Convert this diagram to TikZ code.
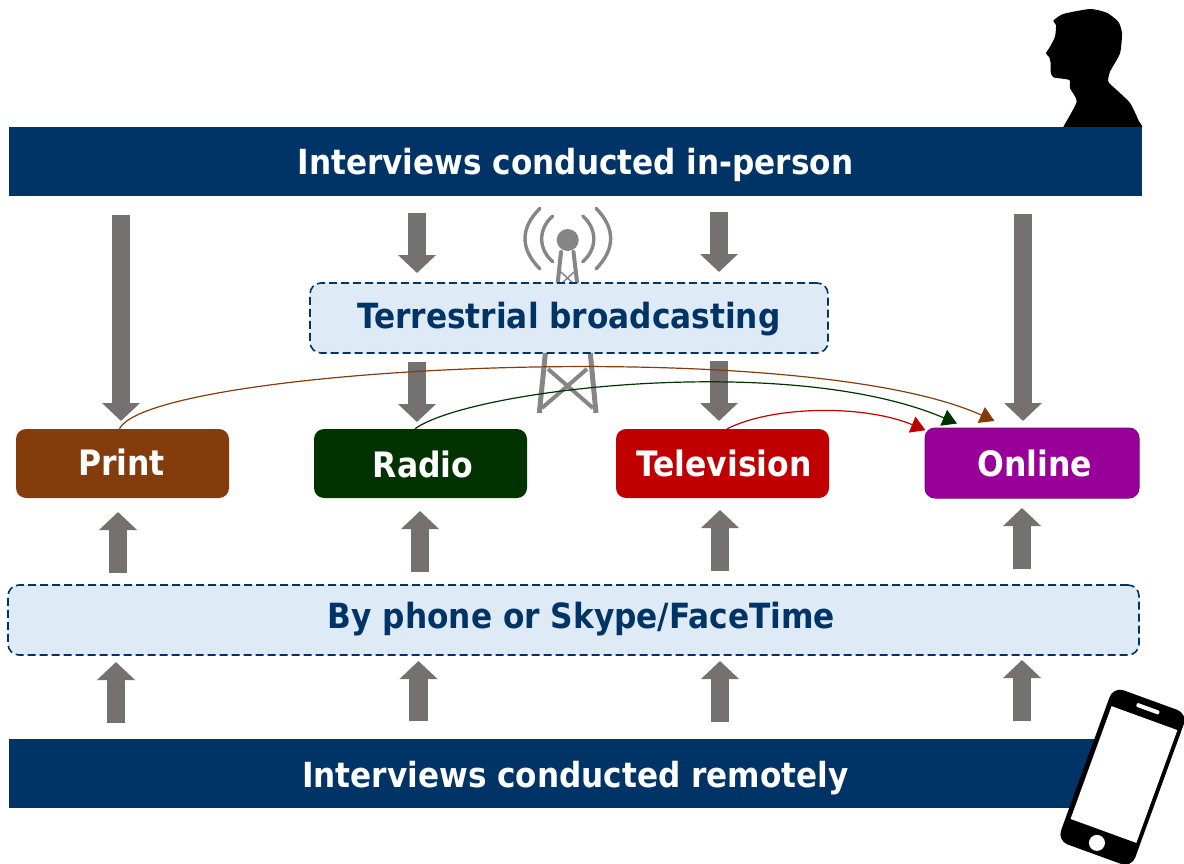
\documentclass[tikz,border=0pt]{standalone}
\usepackage{fontspec}
\setmainfont{DejaVu Sans Condensed}[BoldFont={DejaVu Sans Condensed Bold}]
\usetikzlibrary{arrows.meta,calc}
\definecolor{navy}{HTML}{003366}
\definecolor{pale}{HTML}{DEEAF6}
\definecolor{greyarrow}{HTML}{767171}
\definecolor{cprint}{HTML}{843C0C}
\definecolor{cradio}{HTML}{003300}
\definecolor{ctv}{HTML}{C00000}
\definecolor{conline}{HTML}{990099}
\definecolor{ctower}{HTML}{868686}
\tikzset{
  bar/.style={fill=navy,draw=none,text=white,text depth=0pt,font=\bfseries\fontsize{34.6}{36}\selectfont},
  channel/.style={rounded corners=10pt,text=white,text depth=0pt,font=\bfseries\fontsize{35}{36}\selectfont},
  band/.style={fill=pale,draw=navy,line width=1.6pt,dash pattern=on 8pt off 4pt,rounded corners=11pt,text=navy,text depth=0pt,font=\bfseries\fontsize{34.7}{36}\selectfont},
  gblock/.style={draw=greyarrow,line width=18.5pt,-{Triangle[length=18pt,width=37pt]}},
  link/.style={line width=1.2pt,-{Triangle[length=14.5pt,width=17pt]}},
  towerline/.style={draw=ctower,line width=3.4pt,line cap=round},
}
\newcommand{\boxat}[7]{\node[#1,minimum width=#4pt-#3pt,minimum height=#6pt-#5pt,inner sep=0pt,anchor=center] (#2) at ({(#3+#4)/2},{(#5+#6)/2}) {#7};}
\begin{document}
\begin{tikzpicture}[x=1pt,y=-1pt]
\useasboundingbox (0,0) rectangle (1184,864);
% tower behind the band
\fill[ctower] (567.7,240) circle (11);
\draw[towerline] (552.7,216) .. controls (538,229) and (538,249) .. (552.7,261.7);
\draw[towerline] (582.7,216) .. controls (597.5,229) and (597.5,249) .. (582.7,261.7);
\draw[towerline] (540,208.3) .. controls (520,228) and (520,249) .. (540,269);
\draw[towerline] (596,208.3) .. controls (615.5,228) and (615.5,249) .. (596,269);
\draw[towerline,line width=4pt] (561,252) -- (557,290);
\draw[towerline,line width=4pt] (573.5,252) -- (578,290);
\draw[draw=ctower,line width=1.5pt] (561,272) -- (575,285) (574,272) -- (560,285);
\draw[towerline,line cap=butt,line width=5pt] (545.7,350) -- (539.3,413);
\draw[towerline,line cap=butt,line width=5pt] (590,350) -- (596,413);
\draw[towerline,line cap=butt,line width=4pt] (548,369) -- (593,408) (587,369) -- (542,408);
% person
\begin{scope}
\clip (1040,0) rectangle (1142,128);
\fill[black] plot[smooth cycle,tension=.35] coordinates {(1061,135) (1063.3,127) (1076.7,101.7) (1070,88.3) (1069.3,80) (1053.3,77.3) (1050.7,71.7) (1050.7,63.3) (1049.3,57.3) (1046,53.3) (1050,46.7) (1055,36.7) (1056,25) (1053.3,20.7) (1063.3,14) (1090,9) (1106.7,12.7) (1118.3,21.7) (1122,33.3) (1120,53.3) (1110,71.7) (1108.3,81.7) (1116.7,90) (1130,103) (1138.3,120) (1142,135)};
\end{scope}
% bars
\boxat{bar,text height=27pt}{inperson}{9}{1142}{127}{196}{Interviews conducted in-person}
\boxat{bar,text height=27pt}{remote}{9}{1142}{739}{808}{Interviews conducted remotely}
% phone
\begin{scope}[shift={(1122,777)},rotate=-20]
\fill[black,rounded corners=11pt] (-39,-82) rectangle (40,82);
\fill[white] (-34,-63) rectangle (36,57);
\fill[white,rounded corners=1pt] (-11,-75) rectangle (13,-71);
\fill[white] (-1,70.5) circle (8);
\end{scope}
% bands
\boxat{band,text height=20.6pt}{terr}{310}{828}{283}{353}{Terrestrial broadcasting}
\boxat{band,text height=16.6pt}{phone}{8}{1139}{585}{655}{\hspace*{16pt}By phone or Skype/FaceTime}
% channels
\boxat{channel,fill=cprint,text height=23pt}{print}{16}{229}{429}{498}{\hspace*{-2pt}Print}
\boxat{channel,fill=cradio,text height=27.6pt}{radio}{314}{527}{429}{498}{\hspace*{5pt}Radio}
\boxat{channel,fill=ctv,text height=26.4pt}{tv}{616}{829}{429}{498}{\hspace*{3pt}Television}
\boxat{channel,fill=conline,draw=conline!85!black,line width=1pt,text height=27.4pt}{online}{925}{1139}{428}{498}{\hspace*{6pt}Online}
% in-person arrows
\foreach \nm/\x/\ya/\yb in {a/121/215/421,b/417/213/273,c/719/212/272,d/1023/214/421,e/417/362/422,f/719/361/421}{
  \coordinate (\nm1) at (\x,\ya); \coordinate (\nm2) at (\x,\yb);
  \draw[gblock] (\nm1) -- (\nm2);
}
% up arrows
\foreach \nm/\x/\ya/\yb in {g/118/573/512,h/420/572/511,i/720/571/510,j/1022/569/508,k/116/722.5/662,l/418.5/721/661,m/720/722/661,n/1022/721/660}{
  \coordinate (\nm1) at (\x,\ya); \coordinate (\nm2) at (\x,\yb);
  \draw[gblock] (\nm1) -- (\nm2);
}
% links
\draw[link,draw=cprint] ($(print.north)+(-3,0)$) .. controls (150,367) and (800,333) .. ($(online.north west)+(70,-6.5)$);
\draw[link,draw=cradio] ($(radio.north)+(-5.5,0)$) .. controls (470,389) and (790,352) .. ($(online.north west)+(32.5,-4)$);
\draw[link,draw=ctv] ($(tv.north)+(4.5,0)$) .. controls (775,405) and (865,405) .. ($(online.north west)+(1,2.7)$);
\end{tikzpicture}
\end{document}
